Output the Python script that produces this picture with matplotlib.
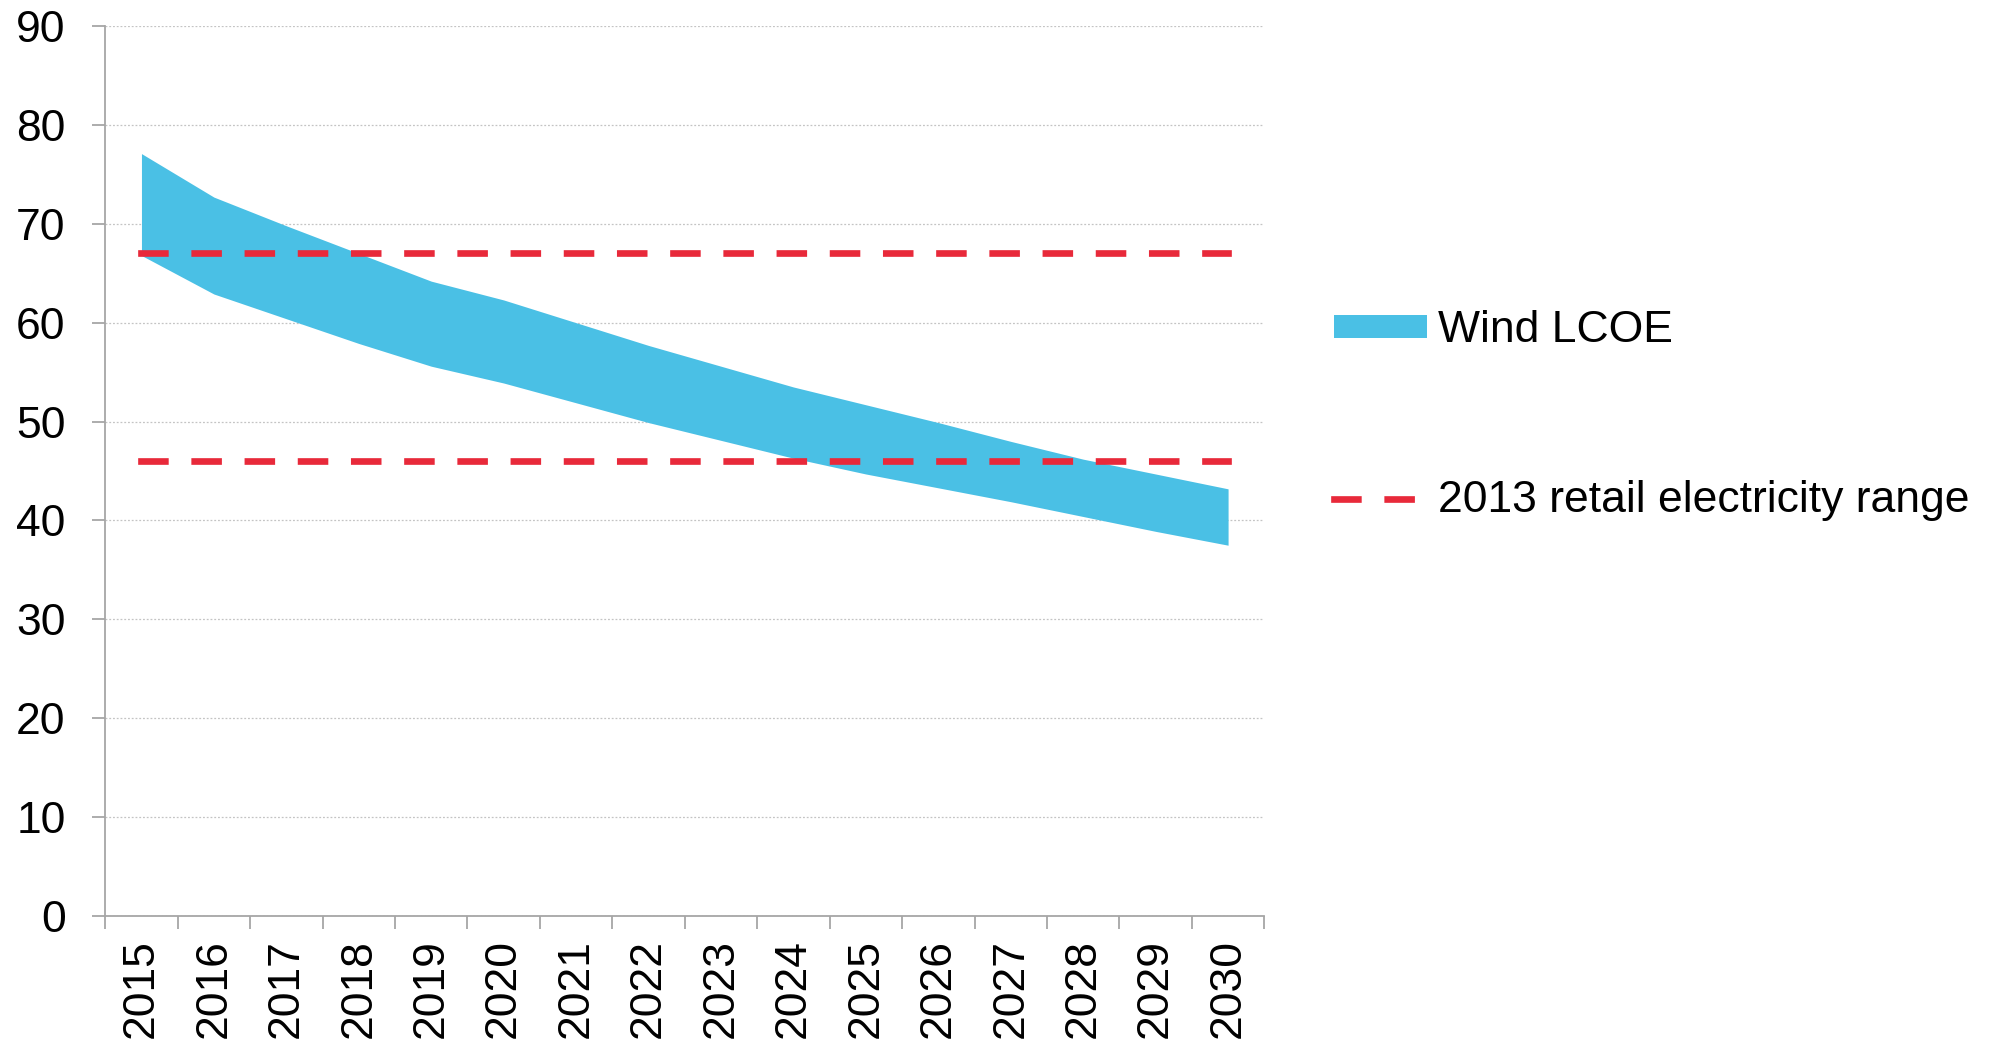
import matplotlib
matplotlib.use("Agg")
import matplotlib.pyplot as plt
from matplotlib.patches import Patch
from matplotlib.lines import Line2D

plt.rcParams['font.family'] = ['Liberation Sans', 'DejaVu Sans']

years = [str(y) for y in range(2015, 2031)]
wind_high = [77.1, 72.7, 69.8, 67.0, 64.2, 62.3, 60.0, 57.7, 55.6, 53.5, 51.7, 49.9, 48.0, 46.2, 44.7, 43.2]
wind_low = [66.8, 62.9, 60.4, 57.9, 55.6, 53.9, 51.9, 49.9, 48.1, 46.3, 44.7, 43.3, 41.9, 40.4, 38.9, 37.5]
retail_high = 67
retail_low = 46

blue = '#4AC0E5'
red = '#E8293A'
fs = 32

fig = plt.figure(figsize=(19.97, 10.45), dpi=100)
ax = fig.add_axes([0.0527, 0.1234, 0.5804, 0.8517])

x = list(range(len(years)))
ax.fill_between(x, wind_low, wind_high, color=blue, linewidth=0, zorder=2)

dash_kw = dict(color=red, lw=4.8, dashes=(3.58, 4.4), dash_capstyle='projecting', zorder=3)
ax.plot(x, [retail_high] * len(x), **dash_kw)
ax.plot(x, [retail_low] * len(x), **dash_kw)

ax.set_xlim(-0.5, len(years) - 0.5)
ax.set_ylim(0, 90)
ax.set_yticks(range(0, 91, 10))
ax.set_xticks(x)
ax.set_xticklabels(years, rotation=90, fontsize=fs)
ax.set_xticks([i - 0.5 for i in range(len(years) + 1)], minor=True)
ax.tick_params(axis='x', which='major', length=0, pad=16.5)
ax.tick_params(axis='x', which='minor', length=9.5, width=1.3, color='#A6A6A6')
ax.tick_params(axis='y', length=9.5, width=1.3, color='#A6A6A6', pad=19, labelsize=fs)

ax.grid(axis='y', color='#C4C4C4', linestyle=(0, (1.5, 1.5)), linewidth=0.9, zorder=0)
for s in ['top', 'right']:
    ax.spines[s].set_visible(False)
for s in ['left', 'bottom']:
    ax.spines[s].set_color('#A6A6A6')
    ax.spines[s].set_linewidth(1.3)

handles = [Patch(facecolor=blue, edgecolor='none', label='Wind LCOE'),
           Line2D([0], [0], **dash_kw, label='2013 retail electricity range')]
fig.legend(handles=handles, loc='upper left', bbox_to_anchor=(0.668, 0.703),
           frameon=False, fontsize=fs, handlelength=2.1, handleheight=0.42,
           handletextpad=0.25, labelspacing=2.9, borderaxespad=0, borderpad=0)

fig.savefig('out.png', dpi=100)
